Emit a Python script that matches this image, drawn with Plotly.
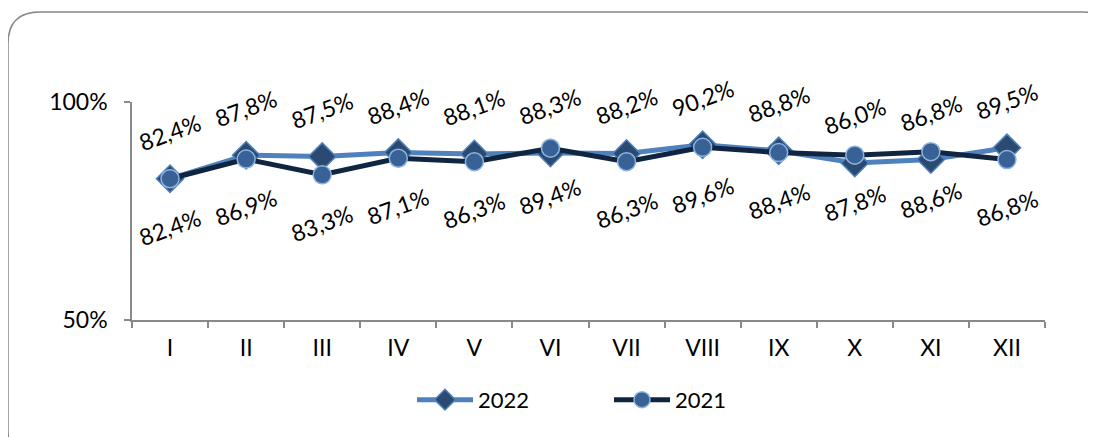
import plotly.graph_objects as go

categories = ["I", "II", "III", "IV", "V", "VI", "VII", "VIII", "IX", "X", "XI", "XII"]
values_2022 = [82.4, 87.8, 87.5, 88.4, 88.1, 88.3, 88.2, 90.2, 88.8, 86.0, 86.8, 89.5]
values_2021 = [82.4, 86.9, 83.3, 87.1, 86.3, 89.4, 86.3, 89.6, 88.4, 87.8, 88.6, 86.8]
y_ticks = [50, 100]
y_tick_labels = ["50%", "100%"]

OFF = 8  # page body margin
W, H = 1096 - OFF, 437 - OFF
L, R, T, B = 132, 1045, 102, 320  # plot area in screen px
FONT = "Lato, 'Noto Sans', sans-serif"


def fmt(v):
    return f"{v:.1f}".replace(".", ",") + "%"


fig = go.Figure()
fig.add_trace(go.Scatter(
    x=categories, y=values_2022, name="2022", mode="lines+markers",
    line=dict(color="#4F81BD", width=5),
    marker=dict(symbol="diamond", size=21, color="#2A4A72",
                line=dict(color="#4F81BD", width=1.5)),
))
fig.add_trace(go.Scatter(
    x=categories, y=values_2021, name="2021", mode="lines+markers",
    line=dict(color="#10253F", width=5),
    marker=dict(symbol="circle", size=18, color="#386195",
                line=dict(color="#8DB3E2", width=1.5)),
))

annotations = []
for c, v in zip(categories, values_2022):
    annotations.append(dict(x=c, y=v, text=fmt(v), showarrow=False, textangle=-20,
                            yshift=47, font=dict(family=FONT, size=23, color="#000")))
for c, v in zip(categories, values_2021):
    annotations.append(dict(x=c, y=v, text=fmt(v), showarrow=False, textangle=-20,
                            yshift=-48, font=dict(family=FONT, size=23, color="#000")))


def px2paper(px, py):
    return (px - L) / (R - L), (B - py) / (B - T)


def P(px, py):
    a, b = px2paper(px, py)
    return f"{a:.5f},{b:.5f}"


# rounded frame (screen px)
x0, y0, x1, y1, r = 8, 12, 1115, 462, 32
path = (f"M {P(x0 + r, y0)} L {P(x1 - r, y0)} Q {P(x1, y0)} {P(x1, y0 + r)} "
        f"L {P(x1, y1 - r)} Q {P(x1, y1)} {P(x1 - r, y1)} "
        f"L {P(x0 + r, y1)} Q {P(x0, y1)} {P(x0, y1 - r)} "
        f"L {P(x0, y0 + r)} Q {P(x0, y0)} {P(x0 + r, y0)} Z")

leg_x, _ = px2paper(412, 0)

fig.update_layout(
    width=W, height=H,
    margin=dict(l=L - OFF, r=OFF + W - R, t=T - OFF, b=OFF + H - B, pad=0),
    paper_bgcolor="white", plot_bgcolor="white",
    font=dict(family=FONT, size=22, color="#000"),
    showlegend=True,
    legend=dict(orientation="h", x=leg_x, xanchor="left", y=-0.27, yanchor="top",
                font=dict(family=FONT, size=22, color="#000"),
                itemwidth=56, tracegroupgap=0, entrywidthmode="pixels", entrywidth=126),
    annotations=annotations,
    shapes=[dict(type="path", xref="paper", yref="paper", path=path,
                 line=dict(color="#878787", width=1.5), fillcolor="rgba(0,0,0,0)", layer="below")],
    xaxis=dict(type="category", range=[-0.5, 11.5], showgrid=False, showline=True,
               linecolor="#898989", linewidth=1.5, ticks="outside", ticklen=6,
               tickcolor="#898989", tickwidth=1.5, tickson="boundaries",
               ticklabelstandoff=7,
               tickfont=dict(family=FONT, size=23), fixedrange=True),
    yaxis=dict(range=[50, 100], tickvals=y_ticks, ticktext=y_tick_labels,
               showgrid=True, gridcolor="#D9D9D9", gridwidth=1.5, showline=True,
               linecolor="#898989", linewidth=1.5, ticks="outside", ticklen=6,
               tickcolor="#898989", tickwidth=1.5, zeroline=False,
               ticklabelstandoff=12,
               tickfont=dict(family=FONT, size=23), fixedrange=True),
)

fig.write_html("out.html")
